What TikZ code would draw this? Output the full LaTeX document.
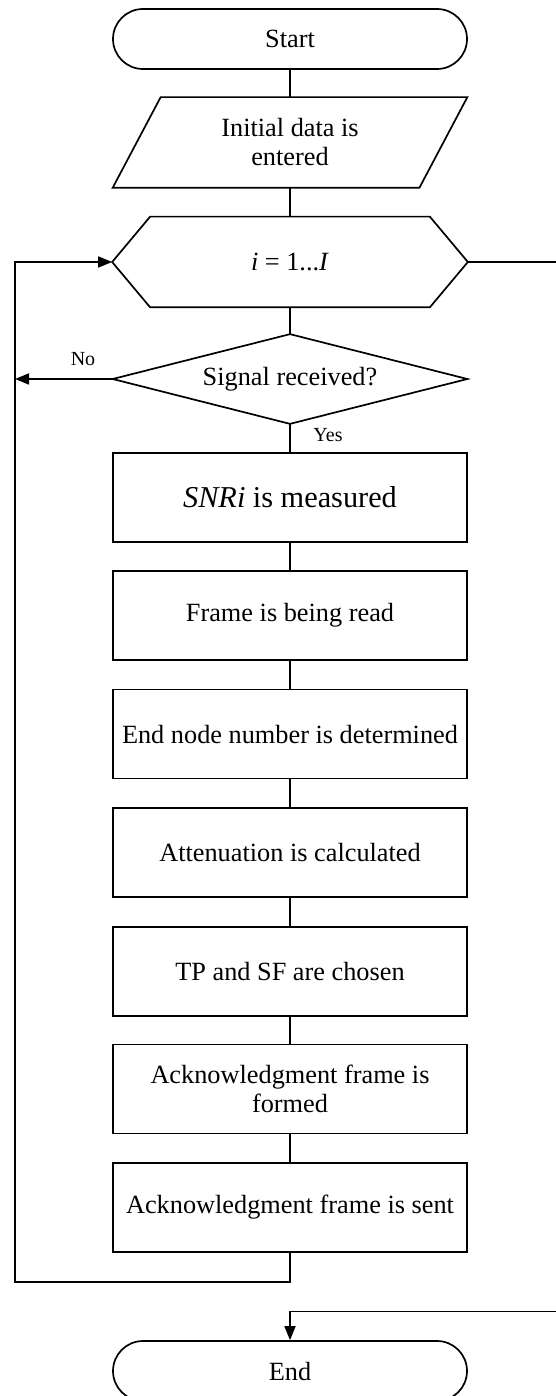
\documentclass[tikz,border=0pt]{standalone}
\usepackage{fontspec}
\setmainfont{Liberation Serif}
\usetikzlibrary{calc,arrows.meta}

\begin{document}
\begin{tikzpicture}[x=1pt,y=-1pt,
  line width=1.7pt,
  txt/.style={font=\fontsize{26.3}{29}\selectfont, align=center, inner sep=0pt},
  blk/.style={txt, minimum width=354pt, minimum height=89pt},
  procbox/.style={blk, draw},
  terminal/.style={txt, draw, rounded corners=30pt, minimum width=354pt, minimum height=60pt},
  lbl/.style={font=\fontsize{20}{22}\selectfont, inner sep=0pt},
  arr/.style={-{Triangle[length=14pt,width=11pt]}}
]
\useasboundingbox (0,0) rectangle (555,1396);

% terminals and input
\node[terminal] (start) at (290,39) {Start};
\node[blk, minimum width=305pt] (inp) at (290,142.5) {Initial data is\\entered};
\draw ($(inp.north west)+(24,0)$) -- ($(inp.north east)+(24,0)$)
   -- ($(inp.south east)+(-24,0)$) -- ($(inp.south west)+(-24,0)$) -- cycle;

% loop header (hexagon)
\node[blk] (loop) at (290,262) {\textit{i} = 1...\textit{I}};
\draw (loop.west) -- ($(loop.north west)+(38,0)$) -- ($(loop.north east)+(-38,0)$)
   -- (loop.east) -- ($(loop.south east)+(-38,0)$) -- ($(loop.south west)+(38,0)$) -- cycle;

% decision
\node[blk, minimum width=353pt, minimum height=88pt] (dec) at (290,379) {Signal received?};
\draw (dec.north) -- (dec.east) -- (dec.south) -- (dec.west) -- cycle;

% processing steps
\node[procbox] (b1) at (290,497.5) {\fontsize{30.3}{34}\selectfont\textit{SNRi} is measured};
\node[procbox] (b2) at (290,615.5) {Frame is being read};
\node[procbox] (b3) at (290,734) {End node number is determined};
\node[procbox] (b4) at (290,852.5) {Attenuation is calculated};
\node[procbox] (b5) at (290,971.5) {TP and SF are chosen};
\node[procbox] (b6) at (290,1089) {Acknowledgment frame is\\formed};
\node[procbox] (b7) at (290,1207.5) {Acknowledgment frame is sent};

\node[terminal] (end) at (290,1371) {End};

% straight flow
\draw (start.south) -- (inp.north);
\draw (inp.south) -- (loop.north);
\draw (loop.south) -- (dec.north);
\draw (dec.south) -- (b1.north);
\draw (b1.south) -- (b2.north);
\draw (b2.south) -- (b3.north);
\draw (b3.south) -- (b4.north);
\draw (b4.south) -- (b5.north);
\draw (b5.south) -- (b6.north);
\draw (b6.south) -- (b7.north);

% loop back and exits
\coordinate (lb) at (15,1282);
\coordinate (rc) at (558,1311.5);
\draw[arr] (b7.south) |- (lb) |- (loop.west);
\draw[arr] (dec.west) -- (dec.west -| lb);
\draw[arr] (loop.east) -| (rc) -| (end.north);

% branch labels
\node[lbl] (no) at (83,359) {No};
\node[lbl] (yes) at (328,435) {Yes};
\end{tikzpicture}
\end{document}
